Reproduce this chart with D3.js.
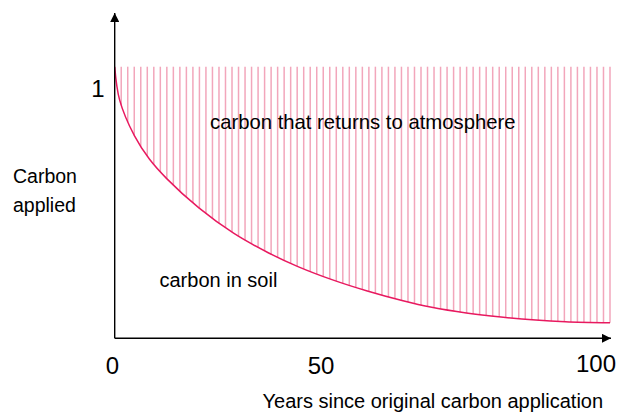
<!DOCTYPE html>
<html>
<head>
<meta charset="utf-8">
<script src="https://cdn.jsdelivr.net/npm/d3@7"></script>
<style>
  body { margin: 0; background: #fff; }
  svg { display: block; font-family: "Liberation Sans", Arial, sans-serif; }
</style>
</head>
<body>
<script>
// size of the drawing
var width = 619,
    height = 416;

// carbon remaining in soil (fraction of carbon applied)
var years = [0, 1, 4, 7, 10.5, 17, 24, 31, 37, 44, 51, 58, 64, 71, 78, 85, 91, 100];
var carbonInSoil = [1, 0.877, 0.745, 0.66, 0.588, 0.48, 0.387, 0.315, 0.264, 0.215,
                    0.174, 0.139, 0.114, 0.093, 0.078, 0.067, 0.061, 0.057];

// tick labels
var xTickLabels = [0, 50, 100];
var yTickLabels = [1];

// labels in the chart
var yTitle = ['Carbon', 'applied'];
var xTitle = 'Years since original carbon application';
var upperLabel = 'carbon that returns to atmosphere';
var lowerLabel = 'carbon in soil';

var svg = d3.select('body')
  .append('svg')
  .attr('width', width)
  .attr('height', height);

// scales
var x = d3.scaleLinear().domain([0, 100]).range([114.7, 610]);
var y = d3.scaleLinear().domain([0, 1]).range([338.3, 66.7]);

// the text boxes under the x axis were placed by hand, not evenly
var xLabelPos = d3.scaleLinear().domain([0, 50, 100]).range([112.5, 321, 596]);

var points = years.map(function(d, i) {
  return { year: d, value: carbonInSoil[i] };
});

var hatchG = svg.append('g');
var curveG = svg.append('g');

// the decay curve
var line = d3.line()
  .x(function(d) { return x(d.year); })
  .y(function(d) { return y(d.value); })
  .curve(d3.curveCatmullRom.alpha(0.5));

var curvePath = curveG.append('path')
  .datum(points)
  .attr('d', line)
  .attr('fill', 'none')
  .attr('stroke', '#E8195F')
  .attr('stroke-width', 1.5);

// find the y of the curve at a given x position
var pathNode = curvePath.node();
var total = pathNode.getTotalLength();
function curveYAt(px) {
  var lo = 0, hi = total;
  for (var i = 0; i < 30; i++) {
    var mid = (lo + hi) / 2;
    if (pathNode.getPointAtLength(mid).x < px) lo = mid; else hi = mid;
  }
  return pathNode.getPointAtLength(hi).y;
}

// vertical hatching between the curve and 1
var hatchYears = d3.range(0, 100.001, 100 / 76);
hatchG.selectAll('line')
  .data(hatchYears)
  .enter()
  .append('line')
  .attr('x1', function(d) { return x(d); })
  .attr('x2', function(d) { return x(d); })
  .attr('y1', y(1))
  .attr('y2', function(d) { return curveYAt(x(d)); })
  .attr('stroke', '#F2A6BB')
  .attr('stroke-width', 1.5);

// axes with arrow heads
svg.append('defs').append('marker')
  .attr('id', 'arrow')
  .attr('viewBox', '0 0 10 10')
  .attr('refX', 10)
  .attr('refY', 5)
  .attr('markerWidth', 6.5)
  .attr('markerHeight', 6.5)
  .attr('markerUnits', 'strokeWidth')
  .attr('orient', 'auto')
  .append('path')
  .attr('d', 'M0,0L10,5L0,10z')
  .attr('fill', '#000');

svg.append('line')
  .attr('x1', x(0)).attr('y1', y(0))
  .attr('x2', x(0)).attr('y2', 13)
  .attr('stroke', '#000')
  .attr('stroke-width', 1.4)
  .attr('marker-end', 'url(#arrow)');

svg.append('line')
  .attr('x1', x(0)).attr('y1', y(0))
  .attr('x2', x(100) + 1).attr('y2', y(0))
  .attr('stroke', '#000')
  .attr('stroke-width', 1.4)
  .attr('marker-end', 'url(#arrow)');

// tick labels
svg.selectAll('.xtick')
  .data(xTickLabels)
  .enter()
  .append('text')
  .attr('class', 'xtick')
  .attr('x', function(d) { return xLabelPos(d); })
  .attr('y', function(d) { return d === 100 ? 371.5 : 374; })
  .attr('text-anchor', 'middle')
  .attr('font-size', 24)
  .attr('fill', '#000')
  .text(function(d) { return d; });

svg.selectAll('.ytick')
  .data(yTickLabels)
  .enter()
  .append('text')
  .attr('class', 'ytick')
  .attr('x', 98)
  .attr('y', function(d) { return y(d) + 30; })
  .attr('text-anchor', 'middle')
  .attr('font-size', 24)
  .attr('fill', '#000')
  .text(function(d) { return d; });

// titles and area labels
svg.append('text')
  .attr('x', 13)
  .attr('y', 182.5)
  .attr('font-size', 19.5)
  .attr('fill', '#000')
  .selectAll('tspan')
  .data(yTitle)
  .enter()
  .append('tspan')
  .attr('x', 13)
  .attr('dy', function(d, i) { return i ? 29.5 : 0; })
  .text(function(d) { return d; });

svg.append('text')
  .attr('x', 262.5)
  .attr('y', 407.5)
  .attr('font-size', 20)
  .attr('fill', '#000')
  .text(xTitle);

svg.append('text')
  .attr('x', 210)
  .attr('y', 128.5)
  .attr('font-size', 20.3)
  .attr('fill', '#000')
  .text(upperLabel);

svg.append('text')
  .attr('x', 159.5)
  .attr('y', 286.5)
  .attr('font-size', 20)
  .attr('fill', '#000')
  .text(lowerLabel);
</script>
</body>
</html>
